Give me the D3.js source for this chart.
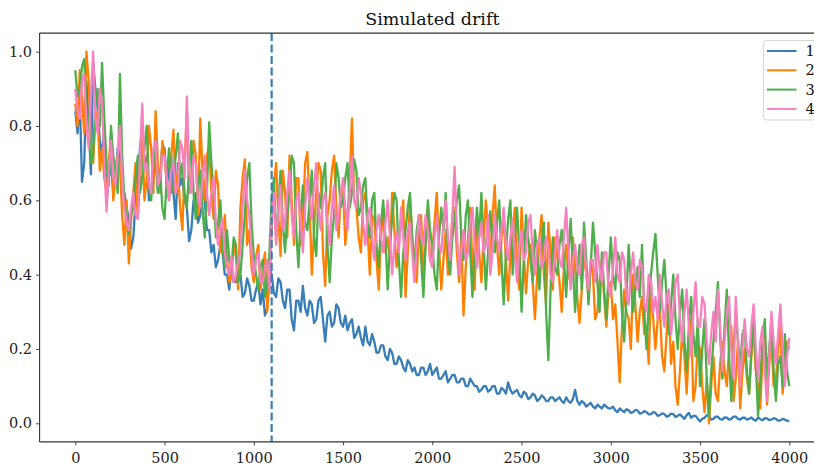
<!DOCTYPE html>
<html>
<head>
<meta charset="utf-8">
<script src="https://cdn.jsdelivr.net/npm/d3@7"></script>
<style>
  html, body { margin: 0; padding: 0; background: #fff; }
  svg { display: block; }
  text { font-family: "DejaVu Serif", serif; }
</style>
</head>
<body>
<svg id="chart" width="814" height="465"></svg>
<script>
// ---------- data ----------
const title = "Simulated drift";
const seriesNames = ["1", "2", "3", "4"];
const xStep = 12.5;            // sample spacing of the series
const xStart = 0;
const driftAt = 1100;          // vertical dashed marker
const xTicks = [0, 500, 1000, 1500, 2000, 2500, 3000, 3500, 4000];
const yTicks = [0.0, 0.2, 0.4, 0.6, 0.8, 1.0];

const s1 = [
  0.84,0.78,0.88,0.65,0.70,0.92,0.80,0.67,0.97,0.90,0.85,0.76,0.72,0.80,0.60,0.66,0.70,0.62,0.66,0.74,
  0.72,0.64,0.62,0.58,0.55,0.47,0.50,0.60,0.66,0.74,0.80,0.68,0.72,0.60,0.62,0.70,0.70,0.63,0.66,0.75,
  0.74,0.64,0.68,0.72,0.62,0.55,0.70,0.64,0.66,0.60,0.58,0.49,0.52,0.60,0.62,0.54,0.56,0.64,0.60,0.52,
  0.52,0.46,0.48,0.42,0.44,0.48,0.46,0.40,0.40,0.36,0.42,0.38,0.38,0.41,0.40,0.34,0.35,0.39,0.37,0.33,
  0.33,0.36,0.38,0.32,0.36,0.29,0.31,0.42,0.40,0.35,0.34,0.39,0.38,0.33,0.31,0.36,0.36,0.28,0.25,0.33,
  0.33,0.30,0.37,0.31,0.29,0.33,0.32,0.27,0.28,0.33,0.34,0.28,0.22,0.29,0.30,0.26,0.27,0.32,0.31,0.27,
  0.26,0.29,0.25,0.27,0.28,0.23,0.24,0.26,0.23,0.21,0.26,0.22,0.21,0.24,0.22,0.19,0.19,0.21,0.21,0.18,
  0.17,0.20,0.19,0.16,0.16,0.18,0.17,0.15,0.14,0.17,0.16,0.14,0.15,0.13,0.13,0.15,0.15,0.13,0.14,0.16,
  0.13,0.14,0.15,0.12,0.12,0.13,0.14,0.11,0.12,0.13,0.13,0.11,0.11,0.12,0.12,0.10,0.10,0.12,0.11,0.10,
  0.10,0.085,0.09,0.10,0.10,0.085,0.09,0.10,0.10,0.08,0.08,0.095,0.09,0.08,0.11,0.09,0.08,0.085,0.09,0.075,
  0.07,0.085,0.08,0.065,0.07,0.08,0.075,0.06,0.065,0.075,0.07,0.06,0.06,0.07,0.07,0.06,0.065,0.07,0.06,0.055,
  0.07,0.06,0.055,0.065,0.09,0.06,0.05,0.06,0.055,0.045,0.05,0.055,0.045,0.04,0.05,0.045,0.04,0.05,0.045,0.04,
  0.04,0.045,0.035,0.03,0.04,0.035,0.03,0.038,0.035,0.028,0.03,0.036,0.035,0.026,0.028,0.033,0.03,0.024,0.025,0.03,
  0.028,0.02,0.022,0.027,0.025,0.018,0.02,0.026,0.025,0.017,0.02,0.024,0.018,0.012,0.022,0.028,0.015,0.02,0.02,0.012,
  0.005,0.012,0.015,0.022,0.02,0.01,0.012,0.018,0.018,0.011,0.01,0.016,0.015,0.01,0.012,0.018,0.018,0.012,0.01,0.015,
  0.015,0.01,0.012,0.016,0.01,0.007,0.016,0.011,0.008,0.014,0.013,0.009,0.01,0.014,0.012,0.007,0.008,0.012,0.01,0.007,
  0.006
];
const s2 = [
  0.86,0.80,0.95,0.88,0.78,1.00,0.92,0.76,0.70,0.82,0.84,0.68,0.74,0.66,0.62,0.70,0.78,0.60,0.66,0.72,
  0.70,0.56,0.48,0.60,0.43,0.55,0.62,0.70,0.55,0.66,0.78,0.60,0.66,0.80,0.74,0.62,0.84,0.70,0.62,0.76,
  0.72,0.64,0.60,0.72,0.79,0.62,0.68,0.58,0.52,0.70,0.84,0.62,0.66,0.76,0.72,0.56,0.82,0.68,0.60,0.72,
  0.75,0.62,0.55,0.68,0.64,0.46,0.50,0.56,0.44,0.38,0.40,0.48,0.45,0.36,0.58,0.66,0.71,0.48,0.52,0.42,
  0.38,0.45,0.48,0.36,0.41,0.46,0.30,0.38,0.52,0.64,0.70,0.56,0.45,0.68,0.62,0.50,0.72,0.60,0.48,0.66,
  0.66,0.48,0.55,0.70,0.73,0.58,0.40,0.52,0.62,0.70,0.68,0.46,0.37,0.56,0.60,0.68,0.72,0.58,0.50,0.62,
  0.64,0.48,0.55,0.66,0.82,0.60,0.58,0.50,0.46,0.60,0.62,0.52,0.40,0.56,0.55,0.44,0.36,0.50,0.58,0.46,
  0.50,0.44,0.62,0.52,0.42,0.48,0.55,0.60,0.34,0.46,0.60,0.50,0.45,0.38,0.52,0.56,0.40,0.48,0.58,0.44,
  0.46,0.54,0.62,0.48,0.36,0.44,0.52,0.40,0.44,0.56,0.58,0.46,0.38,0.50,0.29,0.42,0.50,0.58,0.42,0.36,
  0.56,0.46,0.38,0.50,0.60,0.52,0.45,0.56,0.64,0.48,0.40,0.50,0.55,0.44,0.33,0.46,0.52,0.58,0.42,0.36,
  0.58,0.46,0.35,0.44,0.48,0.38,0.28,0.40,0.50,0.56,0.40,0.32,0.54,0.46,0.36,0.50,0.45,0.38,0.30,0.42,
  0.48,0.40,0.38,0.50,0.42,0.34,0.27,0.36,0.46,0.40,0.34,0.44,0.40,0.28,0.30,0.38,0.44,0.34,0.26,0.36,
  0.38,0.28,0.32,0.22,0.11,0.26,0.36,0.30,0.28,0.20,0.40,0.32,0.22,0.30,0.34,0.24,0.26,0.16,0.38,0.28,
  0.20,0.28,0.30,0.18,0.14,0.24,0.32,0.16,0.22,0.10,0.05,0.14,0.25,0.18,0.08,0.20,0.28,0.06,0.10,0.22,
  0.20,0.10,0.03,0.12,0.00,0.10,0.18,0.08,0.06,0.16,0.22,0.14,0.10,0.20,0.26,0.06,0.12,0.22,0.04,0.14,
  0.20,0.12,0.08,0.18,0.25,0.14,0.10,0.04,0.18,0.24,0.05,0.16,0.22,0.10,0.12,0.20,0.26,0.08,0.15,0.22,
  0.20
];
const s3 = [
  0.95,0.88,0.90,0.96,0.98,0.84,0.82,0.70,0.72,0.86,0.90,0.80,0.97,0.82,0.70,0.64,0.80,0.72,0.68,0.62,
  0.94,0.72,0.60,0.55,0.51,0.56,0.58,0.66,0.72,0.62,0.66,0.74,0.80,0.64,0.60,0.70,0.76,0.62,0.68,0.58,
  0.55,0.66,0.74,0.62,0.64,0.72,0.78,0.66,0.70,0.62,0.58,0.68,0.76,0.62,0.55,0.64,0.68,0.58,0.50,0.62,
  0.81,0.70,0.62,0.50,0.54,0.60,0.47,0.42,0.52,0.44,0.42,0.50,0.48,0.38,0.40,0.48,0.56,0.66,0.70,0.54,
  0.45,0.40,0.36,0.42,0.44,0.34,0.38,0.46,0.60,0.66,0.50,0.58,0.68,0.54,0.46,0.56,0.62,0.72,0.70,0.52,
  0.42,0.56,0.64,0.54,0.52,0.60,0.68,0.50,0.45,0.62,0.58,0.66,0.70,0.48,0.38,0.50,0.56,0.70,0.66,0.58,
  0.60,0.66,0.70,0.58,0.62,0.71,0.68,0.56,0.58,0.64,0.66,0.54,0.50,0.60,0.62,0.48,0.42,0.54,0.60,0.50,
  0.36,0.48,0.55,0.62,0.60,0.44,0.34,0.46,0.52,0.58,0.62,0.50,0.40,0.52,0.56,0.44,0.34,0.48,0.60,0.52,
  0.48,0.40,0.36,0.50,0.58,0.52,0.62,0.46,0.40,0.50,0.55,0.60,0.64,0.50,0.44,0.56,0.60,0.46,0.34,0.48,
  0.58,0.50,0.62,0.48,0.36,0.46,0.57,0.50,0.46,0.54,0.60,0.44,0.32,0.46,0.55,0.60,0.40,0.50,0.58,0.46,
  0.30,0.44,0.56,0.50,0.44,0.38,0.52,0.46,0.36,0.48,0.54,0.30,0.17,0.36,0.50,0.42,0.40,0.48,0.52,0.44,
  0.34,0.46,0.55,0.42,0.30,0.40,0.48,0.36,0.54,0.44,0.32,0.42,0.54,0.46,0.38,0.30,0.46,0.36,0.28,0.40,
  0.50,0.40,0.36,0.46,0.44,0.30,0.22,0.34,0.48,0.38,0.30,0.36,0.42,0.34,0.48,0.30,0.20,0.32,0.40,0.46,
  0.51,0.40,0.30,0.38,0.44,0.34,0.24,0.32,0.40,0.28,0.20,0.30,0.36,0.22,0.14,0.26,0.34,0.24,0.18,0.28,
  0.10,0.20,0.28,0.12,0.02,0.14,0.22,0.30,0.38,0.24,0.12,0.26,0.36,0.18,0.06,0.20,0.30,0.22,0.15,0.24,
  0.26,0.14,0.08,0.20,0.30,0.16,0.02,0.12,0.22,0.28,0.12,0.20,0.28,0.14,0.06,0.16,0.18,0.10,0.24,0.14,
  0.10
];
const s4 = [
  0.90,0.84,0.82,0.92,0.94,0.80,0.74,0.88,1.00,0.82,0.78,0.90,0.86,0.70,0.57,0.68,0.76,0.66,0.64,0.72,
  0.80,0.66,0.58,0.54,0.52,0.58,0.62,0.56,0.55,0.72,0.86,0.68,0.70,0.64,0.62,0.74,0.76,0.64,0.66,0.72,
  0.72,0.66,0.60,0.68,0.70,0.62,0.64,0.76,0.74,0.66,0.88,0.68,0.62,0.72,0.70,0.60,0.58,0.66,0.72,0.62,
  0.56,0.62,0.66,0.54,0.48,0.52,0.55,0.46,0.42,0.40,0.45,0.38,0.40,0.44,0.46,0.58,0.68,0.60,0.56,0.46,
  0.40,0.44,0.46,0.38,0.38,0.42,0.44,0.36,0.55,0.62,0.48,0.58,0.64,0.52,0.54,0.62,0.68,0.56,0.50,0.60,
  0.62,0.54,0.46,0.58,0.66,0.60,0.55,0.64,0.70,0.58,0.52,0.60,0.62,0.54,0.48,0.58,0.64,0.52,0.56,0.62,
  0.66,0.58,0.52,0.62,0.72,0.60,0.58,0.66,0.62,0.54,0.48,0.56,0.58,0.50,0.44,0.52,0.56,0.50,0.46,0.54,
  0.60,0.50,0.40,0.48,0.52,0.46,0.58,0.50,0.44,0.52,0.54,0.46,0.38,0.48,0.56,0.50,0.48,0.56,0.52,0.44,
  0.42,0.50,0.56,0.48,0.46,0.54,0.60,0.50,0.44,0.56,0.69,0.52,0.40,0.46,0.52,0.44,0.46,0.54,0.58,0.48,
  0.42,0.50,0.54,0.46,0.48,0.56,0.40,0.46,0.56,0.50,0.46,0.52,0.58,0.48,0.44,0.50,0.55,0.46,0.38,0.48,
  0.52,0.44,0.46,0.54,0.56,0.46,0.40,0.48,0.50,0.42,0.44,0.50,0.48,0.40,0.38,0.46,0.52,0.44,0.42,0.50,
  0.58,0.46,0.36,0.44,0.48,0.42,0.40,0.48,0.50,0.40,0.36,0.44,0.44,0.38,0.48,0.42,0.38,0.46,0.46,0.36,
  0.34,0.42,0.50,0.40,0.38,0.46,0.44,0.34,0.32,0.40,0.46,0.38,0.36,0.44,0.42,0.32,0.30,0.40,0.38,0.30,
  0.34,0.28,0.40,0.32,0.26,0.34,0.36,0.24,0.30,0.38,0.40,0.28,0.22,0.30,0.36,0.26,0.18,0.30,0.38,0.26,
  0.26,0.34,0.32,0.22,0.16,0.24,0.30,0.22,0.36,0.26,0.14,0.22,0.30,0.34,0.20,0.12,0.34,0.22,0.10,0.20,
  0.28,0.20,0.18,0.26,0.32,0.20,0.12,0.22,0.26,0.14,0.06,0.18,0.30,0.22,0.16,0.24,0.32,0.20,0.10,0.18,
  0.23
];
const seriesValues = [s1, s2, s3, s4];
const colors = ["#377eb8", "#ff7f00", "#4daf4a", "#f781bf"];

// ---------- layout ----------
const W = 814, H = 465;
const plot = { left: 39.6, right: 825, top: 33.1, bottom: 441.9 };

const svg = d3.select("#chart");

const x = d3.scaleLinear().domain([-200, 4200]).range([plot.left, plot.right]);
const y = d3.scaleLinear().domain([-0.05, 1.05]).range([plot.bottom, plot.top]);

svg.append("defs").append("clipPath").attr("id", "clip")
  .append("rect")
  .attr("x", plot.left).attr("y", plot.top)
  .attr("width", plot.right - plot.left).attr("height", plot.bottom - plot.top);

const line = d3.line()
  .x(d => x(d[0]))
  .y(d => y(d[1]));

const g = svg.append("g").attr("clip-path", "url(#clip)");

seriesValues.forEach((vals, k) => {
  const pts = vals.map((v, i) => [xStart + i * xStep, v]);
  g.append("path")
    .datum(pts)
    .attr("d", line)
    .attr("fill", "none")
    .attr("stroke", colors[k])
    .attr("stroke-width", 2.3)
    .attr("stroke-linejoin", "round");
});

// dashed vertical drift marker
g.append("line")
  .attr("x1", x(driftAt)).attr("x2", x(driftAt))
  .attr("y1", plot.top).attr("y2", plot.bottom)
  .attr("stroke", colors[0])
  .attr("stroke-width", 2.2)
  .attr("stroke-dasharray", "8,3.5");

// axes
const xAxis = d3.axisBottom(x).tickValues(xTicks).tickFormat(d3.format("d"))
  .tickSize(3.5).tickPadding(4);
const yAxis = d3.axisLeft(y).tickValues(yTicks).tickFormat(d3.format(".1f"))
  .tickSize(3.5).tickPadding(4);

const gx = svg.append("g").attr("transform", `translate(0,${plot.bottom})`).call(xAxis);
const gy = svg.append("g").attr("transform", `translate(${plot.left},0)`).call(yAxis);

[gx, gy].forEach(a => {
  a.select(".domain").remove();
  a.selectAll(".tick line").attr("stroke", "#333").attr("stroke-width", 0.9);
  a.selectAll(".tick text")
    .attr("fill", "#222")
    .style("font-size", "14.5px")
    .style("font-family", "'DejaVu Serif', serif");
});
gx.selectAll(".tick text").attr("dy", "0.95em");

// spines
const spine = svg.append("g").attr("stroke", "#333").attr("stroke-width", 1.1).attr("fill", "none");
spine.append("line").attr("x1", plot.left).attr("x2", plot.left).attr("y1", plot.top).attr("y2", plot.bottom);
spine.append("line").attr("x1", plot.left).attr("x2", plot.right).attr("y1", plot.bottom).attr("y2", plot.bottom);
spine.append("line").attr("x1", plot.left).attr("x2", plot.right).attr("y1", plot.top).attr("y2", plot.top);
spine.append("line").attr("x1", plot.right).attr("x2", plot.right).attr("y1", plot.top).attr("y2", plot.bottom);

// title
svg.append("text")
  .attr("x", (plot.left + plot.right) / 2)
  .attr("y", 25)
  .attr("text-anchor", "middle")
  .attr("fill", "#111")
  .style("font-size", "17.5px")
  .text(title);

// legend
const lg = svg.append("g");
lg.append("rect")
  .attr("x", 763.5).attr("y", 40.5)
  .attr("width", 56).attr("height", 79.5)
  .attr("rx", 3)
  .attr("fill", "#fff").attr("fill-opacity", 0.8)
  .attr("stroke", "#d6d6d6").attr("stroke-width", 1);
seriesNames.forEach((name, k) => {
  const yy = 51 + k * 19.3;
  lg.append("line")
    .attr("x1", 767).attr("x2", 796.5)
    .attr("y1", yy).attr("y2", yy)
    .attr("stroke", colors[k]).attr("stroke-width", 2);
  lg.append("text")
    .attr("x", 805.5).attr("y", yy)
    .attr("dy", "0.35em")
    .attr("fill", "#111")
    .style("font-size", "14.5px")
    .text(name);
});
</script>
</body>
</html>
